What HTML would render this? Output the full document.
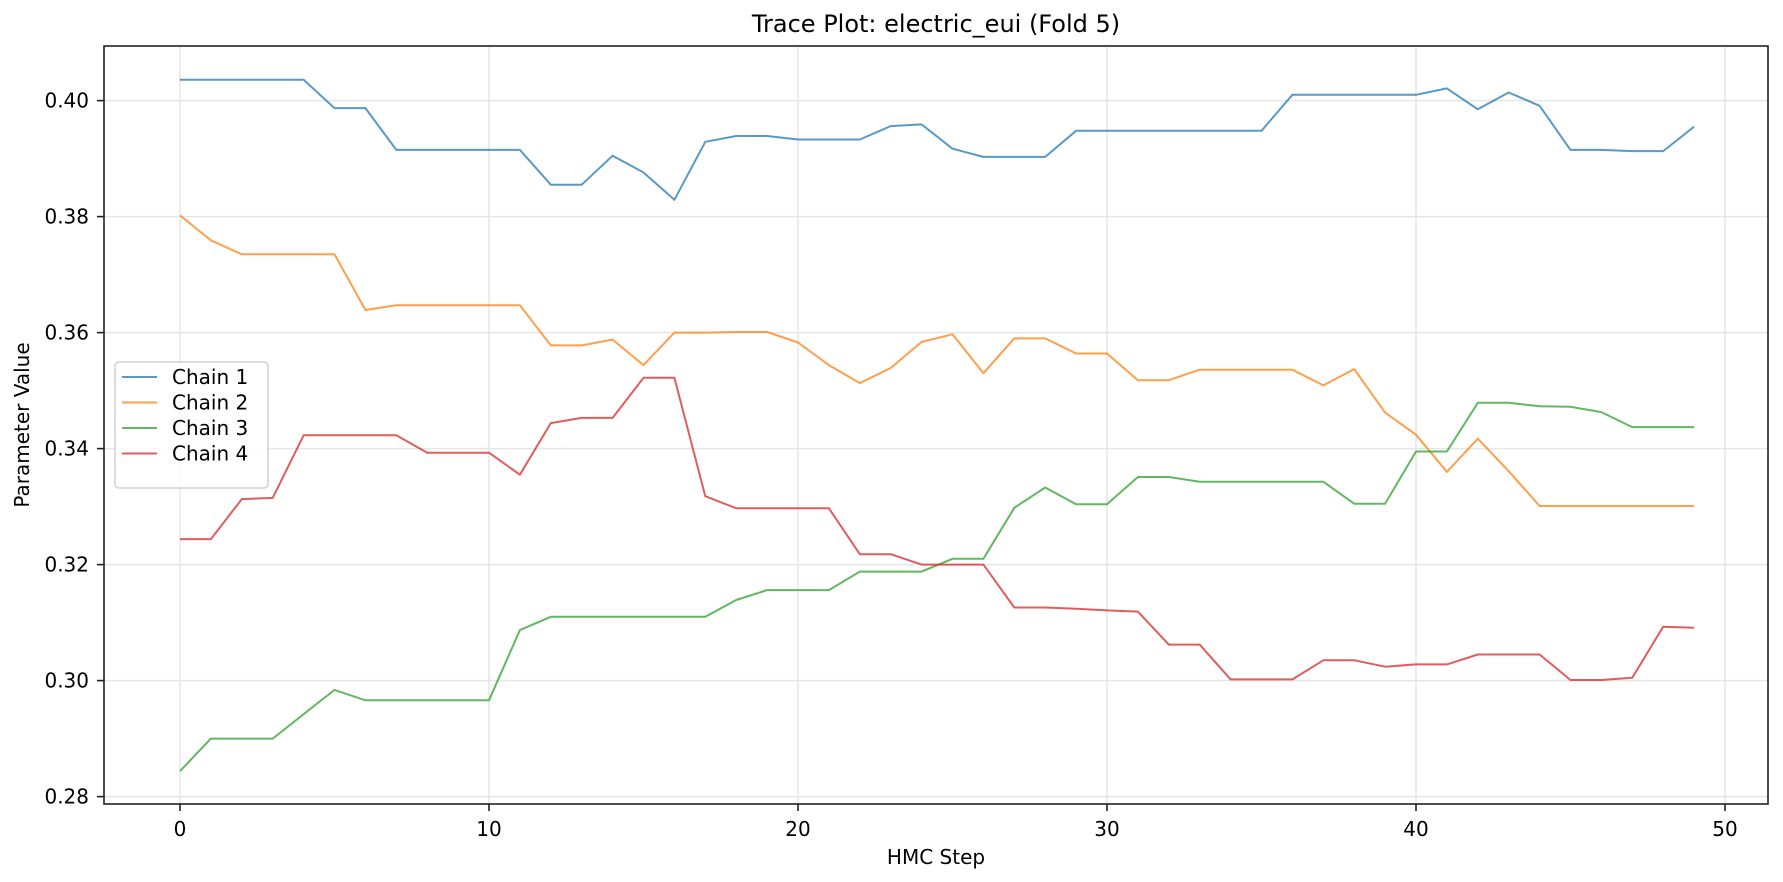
<!DOCTYPE html>
<html><head><meta charset="utf-8"><style>
html,body{margin:0;padding:0;background:#fff}
svg{display:block;font-family:"DejaVu Sans","Liberation Sans",sans-serif}
</style></head><body>
<svg id="chart" width="1783" height="882" viewBox="0 0 1783 882" xmlns="http://www.w3.org/2000/svg">
<rect width="1783" height="882" fill="#fff"/>
<g id="grid"></g>
<g id="series"></g>
<g id="axes"></g>
<text x="936" y="32" font-size="24" text-anchor="middle" fill="#000">Trace Plot: electric_eui (Fold 5)</text>
<text x="936" y="864" font-size="20" text-anchor="middle" fill="#000">HMC Step</text>
<text x="29" y="425" font-size="20" text-anchor="middle" fill="#000" transform="rotate(-90 29 425)">Parameter Value</text>
<g id="legend"></g>
</svg>
<script>
const chainNames = ["Chain 1","Chain 2","Chain 3","Chain 4"];
const chain1 = [0.4036,0.4036,0.4036,0.4036,0.4036,0.3987,0.3987,0.3915,0.3915,0.3915,0.3915,0.3915,0.3855,0.3855,0.3905,0.3876,0.3829,0.3929,0.3939,0.3939,0.3933,0.3933,0.3933,0.3956,0.3959,0.3917,0.3903,0.3903,0.3903,0.3948,0.3948,0.3948,0.3948,0.3948,0.3948,0.3948,0.4010,0.4010,0.4010,0.4010,0.4010,0.4021,0.3985,0.4014,0.3991,0.3915,0.3915,0.3913,0.3913,0.3955];
const chain2 = [0.3802,0.3759,0.3735,0.3735,0.3735,0.3735,0.3639,0.3647,0.3647,0.3647,0.3647,0.3647,0.3578,0.3578,0.3588,0.3544,0.3600,0.3600,0.3601,0.3601,0.3583,0.3544,0.3513,0.3539,0.3584,0.3597,0.3530,0.3590,0.3590,0.3564,0.3564,0.3518,0.3518,0.3536,0.3536,0.3536,0.3536,0.3509,0.3537,0.3462,0.3424,0.3360,0.3417,0.3361,0.3301,0.3301,0.3301,0.3301,0.3301,0.3301];
const chain3 = [0.2844,0.2900,0.2900,0.2900,0.2942,0.2984,0.2966,0.2966,0.2966,0.2966,0.2966,0.3087,0.3110,0.3110,0.3110,0.3110,0.3110,0.3110,0.3139,0.3156,0.3156,0.3156,0.3188,0.3188,0.3188,0.3210,0.3210,0.3298,0.3333,0.3304,0.3304,0.3351,0.3351,0.3343,0.3343,0.3343,0.3343,0.3343,0.3305,0.3305,0.3395,0.3395,0.3479,0.3479,0.3473,0.3472,0.3463,0.3437,0.3437,0.3437];
const chain4 = [0.3244,0.3244,0.3313,0.3315,0.3423,0.3423,0.3423,0.3423,0.3393,0.3393,0.3393,0.3355,0.3444,0.3453,0.3453,0.3522,0.3522,0.3318,0.3297,0.3297,0.3297,0.3297,0.3218,0.3218,0.3200,0.3200,0.3200,0.3126,0.3126,0.3124,0.3121,0.3119,0.3062,0.3062,0.3002,0.3002,0.3002,0.3035,0.3035,0.3024,0.3028,0.3028,0.3045,0.3045,0.3045,0.3001,0.3001,0.3005,0.3093,0.3091];
const xTicks = [0,10,20,30,40,50];
const yTicks = [0.28,0.30,0.32,0.34,0.36,0.38,0.40];
const yTickLabels = ["0.28","0.30","0.32","0.34","0.36","0.38","0.40"];

const NS="http://www.w3.org/2000/svg";
const L=104,R=1768,T=46,B=804;
function xs(i){return 180+i*30.9;}
function ys(v){return 100.6+(0.40-v)*5800;}
function mk(tag,attrs,parent){const e=document.createElementNS(NS,tag);for(const k in attrs)e.setAttribute(k,attrs[k]);parent.appendChild(e);return e;}
const grid=document.getElementById('grid'),axes=document.getElementById('axes'),series=document.getElementById('series'),legend=document.getElementById('legend');
xTicks.forEach(t=>{
  const x=xs(t);
  const g=mk('line',{x1:x,x2:x,y1:T,y2:B,stroke:'#e6e6e6','stroke-width':1.5},grid);
  
  
  const tk=mk('line',{x1:x,x2:x,y1:B,y2:B+7,stroke:'#222','stroke-width':1.6},axes);
  
  
  const tx=mk('text',{x:x,y:836,'font-size':20,'text-anchor':'middle',fill:'#000'},axes);
  tx.textContent=String(t);
  
  
});
yTicks.forEach((t,i)=>{
  const y=ys(t);
  const g=mk('line',{x1:L,x2:R,y1:y,y2:y,stroke:'#e6e6e6','stroke-width':1.5},grid);
  
  
  const tk=mk('line',{x1:L-7,x2:L,y1:y,y2:y,stroke:'#222','stroke-width':1.6},axes);
  
  
  const tx=mk('text',{x:89,y:y+7,'font-size':20,'text-anchor':'end',fill:'#000'},axes);
  tx.textContent=yTickLabels[i];
  
  
});
const frame=mk('rect',{x:L,y:T,width:R-L,height:B-T,fill:'none',stroke:'#222','stroke-width':1.6},axes);


const colors=['#1f77b4','#ff7f0e','#2ca02c','#d62728'];
[chain1,chain2,chain3,chain4].forEach((d,k)=>{
  const p=mk('polyline',{points:d.map((v,i)=>xs(i).toFixed(1)+','+ys(v).toFixed(1)).join(' '),fill:'none',stroke:colors[k],'stroke-opacity':0.75,'stroke-width':2,'stroke-linejoin':'round'},series);
  
  
});
const box=mk('rect',{x:115,y:362,width:153,height:126,rx:4,fill:'#fff','fill-opacity':0.85,stroke:'#d0d0d0','stroke-width':1.5},legend);


chainNames.forEach((n,k)=>{
  const y=377+k*25.5;
  const ln=mk('line',{x1:122,x2:157,y1:y,y2:y,stroke:colors[k],'stroke-opacity':0.75,'stroke-width':2},legend);
  
  
  const tx=mk('text',{x:172,y:y+7,'font-size':20,fill:'#000'},legend);
  tx.textContent=n;
  
  
});
</script>
</body></html>
